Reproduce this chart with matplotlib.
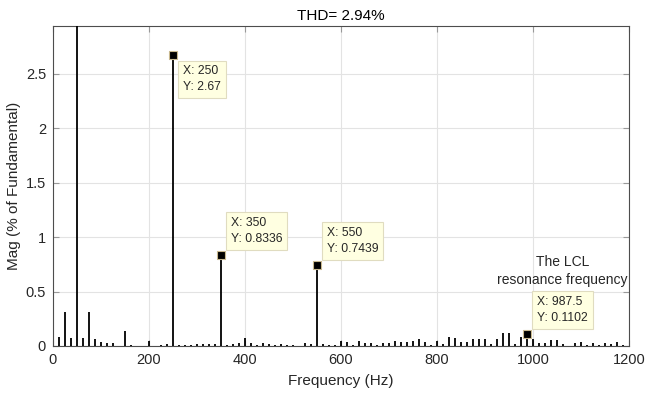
import matplotlib.pyplot as plt
import numpy as np

# FFT bins (Hz), 12.5 Hz resolution
freq = [12.5, 25, 37.5, 50, 62.5, 75, 87.5, 100, 112.5, 125,
        137.5, 150, 162.5, 175, 187.5, 200, 212.5, 225, 237.5, 250,
        262.5, 275, 287.5, 300, 312.5, 325, 337.5, 350, 362.5, 375,
        387.5, 400, 412.5, 425, 437.5, 450, 462.5, 475, 487.5, 500,
        512.5, 525, 537.5, 550, 562.5, 575, 587.5, 600, 612.5, 625,
        637.5, 650, 662.5, 675, 687.5, 700, 712.5, 725, 737.5, 750,
        762.5, 775, 787.5, 800, 812.5, 825, 837.5, 850, 862.5, 875,
        887.5, 900, 912.5, 925, 937.5, 950, 962.5, 975, 987.5, 1000,
        1012.5, 1025, 1037.5, 1050, 1062.5, 1075, 1087.5, 1100, 1112.5, 1125,
        1137.5, 1150, 1162.5, 1175, 1187.5]

# magnitude in % of fundamental
mag = [0.08, 0.31, 0.075, 100, 0.075, 0.31, 0.068, 0.037, 0.025, 0.025,
       0.0, 0.14, 0.01, 0.0, 0.0, 0.05, 0.0, 0.005, 0.02, 2.67,
       0.01, 0.01, 0.01, 0.015, 0.015, 0.02, 0.015, 0.8336, 0.005, 0.02,
       0.025, 0.07, 0.03, 0.01, 0.025, 0.015, 0.01, 0.02, 0.01, 0.01,
       0.0, 0.03, 0.015, 0.7439, 0.02, 0.005, 0.01, 0.045, 0.035, 0.01,
       0.045, 0.03, 0.03, 0.01, 0.03, 0.025, 0.045, 0.04, 0.04, 0.05,
       0.06, 0.035, 0.01, 0.045, 0.02, 0.08, 0.075, 0.035, 0.035, 0.06,
       0.06, 0.06, 0.02, 0.06, 0.12, 0.12, 0.015, 0.085, 0.1102, 0.06,
       0.03, 0.03, 0.055, 0.055, 0.015, 0.0, 0.03, 0.035, 0.01, 0.03,
       0.01, 0.03, 0.015, 0.035, 0.01]

tips = [250, 350, 550, 987.5]
tip_labels = ["Y: 2.67", "Y: 0.8336", "Y: 0.7439", "Y: 0.1102"]
tip_x = ["X: 250", "X: 350", "X: 550", "X: 987.5"]
# where the datatip box sits relative to its point
tip_below = [True, False, False, False]

thd = 2.94

plt.rcParams['font.family'] = ['Liberation Sans', 'DejaVu Sans']
txt = '#262626'

fig = plt.figure(figsize=(6.46, 3.97), dpi=100)
ax = fig.add_axes([0.082, 0.1285, 0.8916, 0.806])

ax.vlines(freq, 0, mag, color='black', linewidth=1.3, zorder=3)

for f, yl, xl, below in zip(tips, tip_labels, tip_x, tip_below):
    y = mag[freq.index(f)]
    ax.plot(f, y, 's', color='black', markersize=6,
            markeredgecolor='#c9b98f', markeredgewidth=0.8, zorder=5)
    if below:
        off, va = (10, -10), 'top'
    else:
        off, va = (10, 10), 'bottom'
    ax.annotate(xl + "\n" + yl, (f, y), xytext=off, textcoords='offset pixels',
                ha='left', va=va, fontsize=8.7, color=txt, linespacing=1.45,
                bbox=dict(boxstyle='square,pad=0.4', fc='#ffffe1',
                          ec='#e0dcc0', lw=0.8), zorder=6)

ax.text(1062, 0.69, "The LCL\nresonance frequency", ha='center', va='center',
        fontsize=10, color=txt, linespacing=1.3)

ax.set_xlim(0, 1200)
ax.set_ylim(0, thd)
ax.set_xticks([0, 200, 400, 600, 800, 1000, 1200])
ax.set_yticks([0, 0.5, 1, 1.5, 2, 2.5])
ax.set_yticklabels(['0', '0.5', '1', '1.5', '2', '2.5'])
ax.grid(True, color='#e3e3e3', linewidth=0.8)
ax.set_axisbelow(True)
ax.tick_params(direction='in', length=4, top=True, right=True,
               labelsize=10.5, colors='#262626', pad=5)
ax.tick_params(axis='both', which='both', color='#999999')
for s in ax.spines.values():
    s.set_color('#4d4d4d')
    s.set_linewidth(0.8)

ax.set_title("THD= %.2f%%" % thd, fontsize=11, color='black', pad=4)
ax.set_xlabel("Frequency (Hz)", fontsize=11, color=txt, labelpad=5)
ax.set_ylabel("Mag (% of Fundamental)", fontsize=11, color=txt, labelpad=3)

fig.savefig("out.png", dpi=100)
